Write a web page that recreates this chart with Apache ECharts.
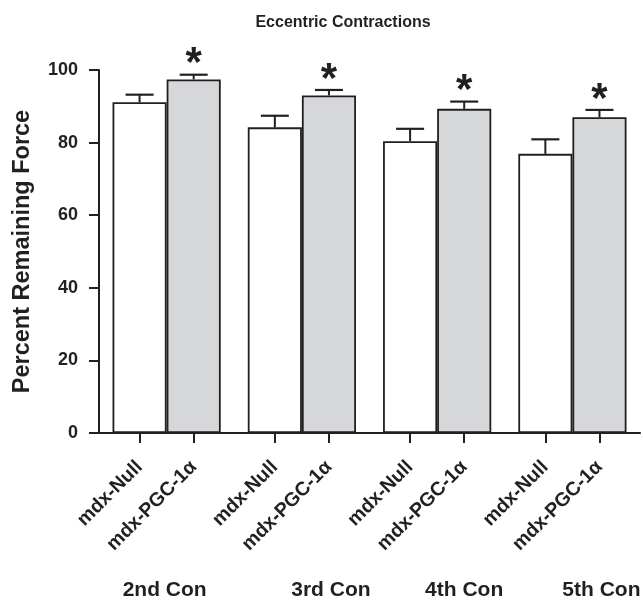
<!DOCTYPE html>
<html>
<head>
<meta charset="utf-8">
<script src="https://cdn.jsdelivr.net/npm/echarts@6/dist/echarts.min.js"></script>
<style>
  html, body { margin: 0; padding: 0; background: #ffffff; }
  #chart { width: 643px; height: 603px; }
</style>
</head>
<body>
<div id="chart"></div>
<script>
// Contraction groups and the two genotypes compared in each
const groups = ['2nd Con', '3rd Con', '4th Con', '5th Con'];
const genotypes = ['mdx-Null', 'mdx-PGC-1α'];

// Percent remaining force (mean) and SEM per group
const nullMean = [91.1, 84.2, 80.4, 76.9];
const nullSem  = [2.1, 3.2, 3.4, 4.0];
const pgcMean  = [97.4, 93.0, 89.3, 87.0];
const pgcSem   = [1.3, 1.5, 2.0, 2.0];
const pgcSignificant = [true, true, true, true];

// Y axis scale
const yMin = 0, yMax = 100, yStep = 20;

const ink = '#231f20';
const fontFamily = '"Liberation Sans", Arial, Helvetica, sans-serif';

// Label offsets (horizontal) for the group captions under the axis
const groupShift = [-2, 29, 27, 29];

// Secondary label axis: five slots per group, genotype names in slots 1 and 3
const slotLabels = [];
groups.forEach(() => { slotLabels.push('', genotypes[0], '', genotypes[1], ''); });

const chart = echarts.init(document.getElementById('chart'), null, { renderer: 'canvas' });

function errorRenderer(side, flags) {
  return function (params, api) {
    const cat = api.value(0);
    const mean = api.value(1);
    const sem = api.value(2);
    const band = api.size([1, 0])[0];
    const dx = side * band * 0.2;
    const p0 = api.coord([cat, mean]);
    const p1 = api.coord([cat, mean + sem]);
    const x = p0[0] + dx;
    const half = 14;
    const children = [
      { type: 'line', shape: { x1: x, y1: p0[1], x2: x, y2: p1[1] },
        style: { stroke: ink, lineWidth: 2 } },
      { type: 'line', shape: { x1: x - half, y1: p1[1], x2: x + half, y2: p1[1] },
        style: { stroke: ink, lineWidth: 2.2 } }
    ];
    if (flags && flags[params.dataIndex]) {
      children.push({
        type: 'text',
        style: {
          text: '*', x: x, y: p1[1] - 10,
          fill: ink, font: 'bold 42px ' + fontFamily,
          textAlign: 'center', textVerticalAlign: 'middle'
        }
      });
    }
    return { type: 'group', children: children };
  };
}

const option = {
  animation: false,
  backgroundColor: '#ffffff',
  title: {
    text: 'Eccentric Contractions',
    left: 338, top: 10, textAlign: 'center',
    textStyle: { color: ink, fontSize: 16, fontWeight: 'bold', fontFamily: fontFamily }
  },
  grid: { left: 99, top: 70, width: 545, height: 363 },
  xAxis: [
    {
      type: 'category',
      position: 'bottom',
      data: groups.map((g, i) => ({
        value: g,
        textStyle: { padding: groupShift[i] >= 0 ? [0, 0, 0, 2 * groupShift[i]] : [0, -2 * groupShift[i], 0, 0] }
      })),
      axisLine: { show: true, lineStyle: { color: ink, width: 2 } },
      axisTick: { show: false },
      axisLabel: {
        margin: 147, color: ink, fontSize: 21, fontWeight: 'bold', fontFamily: fontFamily
      },
      splitLine: { show: false }
    },
    {
      type: 'category',
      position: 'bottom',
      data: slotLabels,
      axisLine: { show: false },
      axisTick: {
        show: true, alignWithLabel: true, length: 10,
        interval: (idx) => idx % 5 === 1 || idx % 5 === 3,
        lineStyle: { color: ink, width: 2 }
      },
      axisLabel: {
        interval: 0, rotate: 45, margin: 31,
        color: ink, fontSize: 19.5, fontWeight: 'bold', fontFamily: fontFamily
      },
      splitLine: { show: false }
    }
  ],
  yAxis: {
    type: 'value',
    min: yMin, max: yMax, interval: yStep,
    name: 'Percent Remaining Force',
    nameLocation: 'middle', nameGap: 64,
    nameTextStyle: { color: ink, fontSize: 23.5, fontWeight: 'bold', fontFamily: fontFamily },
    axisLine: { show: true, lineStyle: { color: ink, width: 2 } },
    axisTick: { show: true, length: 10, lineStyle: { color: ink, width: 2 } },
    axisLabel: { margin: 21, color: ink, fontSize: 18, fontWeight: 'bold', fontFamily: fontFamily },
    splitLine: { show: false }
  },
  series: [
    {
      name: genotypes[0], type: 'bar', xAxisIndex: 0,
      data: nullMean,
      barGap: '0%', barCategoryGap: '20%',
      itemStyle: { color: '#ffffff', borderColor: ink, borderWidth: 1.8 }
    },
    {
      name: genotypes[1], type: 'bar', xAxisIndex: 0,
      data: pgcMean,
      barGap: '0%', barCategoryGap: '20%',
      itemStyle: { color: '#d6d7d9', borderColor: ink, borderWidth: 1.8 }
    },
    {
      type: 'custom', xAxisIndex: 0,
      renderItem: errorRenderer(-1, null),
      data: nullMean.map((m, i) => [i, m, nullSem[i]]),
      encode: { x: 0, y: [1, 2] }, z: 5
    },
    {
      type: 'custom', xAxisIndex: 0,
      renderItem: errorRenderer(1, pgcSignificant),
      data: pgcMean.map((m, i) => [i, m, pgcSem[i]]),
      encode: { x: 0, y: [1, 2] }, z: 5
    }
  ]
};

chart.setOption(option);
</script>
</body>
</html>
